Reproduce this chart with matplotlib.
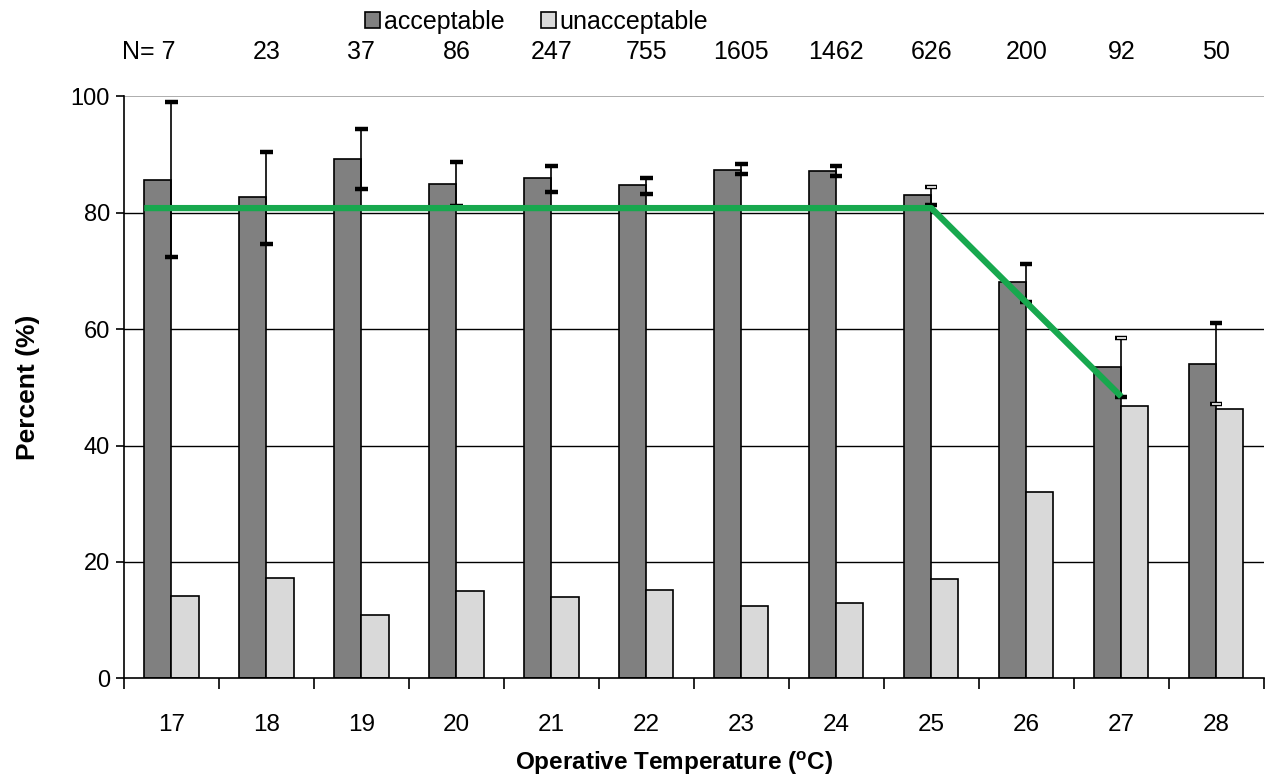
import matplotlib
matplotlib.use('Agg')
import matplotlib.pyplot as plt
import numpy as np

plt.rcParams['font.family'] = ['Liberation Sans', 'DejaVu Sans']
plt.rcParams['mathtext.fontset'] = 'custom'
plt.rcParams['mathtext.rm'] = 'Liberation Sans'
plt.rcParams['mathtext.bf'] = 'Liberation Sans:bold'

# data
temps = [17, 18, 19, 20, 21, 22, 23, 24, 25, 26, 27, 28]
n_obs = [7, 23, 37, 86, 247, 755, 1605, 1462, 626, 200, 92, 50]
acceptable = [85.6, 82.7, 89.2, 84.9, 86.0, 84.7, 87.4, 87.2, 83.0, 68.1, 53.5, 54.0]
unacceptable = [14.2, 17.2, 10.8, 15.0, 14.0, 15.2, 12.5, 12.9, 17.0, 32.1, 46.8, 46.2]
err_upper = [99.1, 90.5, 94.4, 88.8, 88.0, 86.0, 88.3, 88.1, 84.4, 71.2, 58.5, 61.1]
err_lower = [72.4, 74.6, 84.1, 81.2, 83.6, 83.3, 86.6, 86.3, 81.4, 64.7, 48.4, 47.2]
fit_temps = [17, 25, 27]
fit_pct = [80.8, 80.8, 48.4]

# caps drawn hollow in the original
hollow_upper = [25, 27]
hollow_lower = [28]

dark = '#808080'
light = '#D9D9D9'
green = '#17A84E'

fig = plt.figure(figsize=(12.65, 7.77), dpi=100)
ax = fig.add_axes([0.098, 0.127, 0.901, 0.749])

x = np.arange(len(temps))
w = 2 / 7
b1 = ax.bar(x - w / 2, acceptable, w, color=dark, edgecolor='black', linewidth=1.2,
            label='acceptable', zorder=2)
b2 = ax.bar(x + w / 2, unacceptable, w, color=light, edgecolor='black', linewidth=1.2,
            label='unacceptable', zorder=2)

# error bars at the boundary between the two bars
ax.vlines(x, err_lower, err_upper, color='black', linewidth=1.2, zorder=3)
cap = 0.065
for i, t in enumerate(temps):
    for yv, hollow in ((err_upper[i], t in hollow_upper), (err_lower[i], t in hollow_lower)):
        ax.plot([x[i] - cap, x[i] + cap], [yv, yv], color='black', linewidth=3.2,
                solid_capstyle='butt', zorder=4)
        if hollow:
            ax.plot([x[i] - cap * 0.75, x[i] + cap * 0.75], [yv, yv], color=light,
                    linewidth=1.4, solid_capstyle='butt', zorder=5)

# fitted line
fx = [temps.index(t) for t in fit_temps]
fx[0] = fx[0] - w
ax.plot(fx, fit_pct, color=green, linewidth=4.5, zorder=6, solid_capstyle='butt')

ax.set_xlim(-0.5, len(temps) - 0.5)
ax.set_ylim(0, 100)
ax.set_yticks([0, 20, 40, 60, 80, 100])
ax.set_xticks(x)
ax.set_xticklabels([str(t) for t in temps])
ax.set_xticks(np.arange(-0.5, len(temps)), minor=True)
ax.tick_params(axis='x', which='major', length=0, pad=26, labelsize=17.5)
ax.tick_params(axis='x', which='minor', length=8, width=1.2, direction='out')
ax.tick_params(axis='y', length=6, width=1.2, direction='out', pad=4, labelsize=17)

for yg in [20, 40, 60, 80]:
    ax.axhline(yg, color='black', linewidth=1.0, zorder=1)
ax.axhline(100, color='#A0A0A0', linewidth=1.2, zorder=1)

ax.spines['top'].set_visible(False)
ax.spines['right'].set_visible(False)
ax.spines['left'].set_linewidth(1.2)
ax.spines['bottom'].set_linewidth(1.2)

# sample sizes above the plot
for i, n in enumerate(n_obs):
    if i == 0:
        ax.text(x[i] + 0.04, 107.6, 'N= %d' % n, ha='right', va='center', fontsize=18,
                clip_on=False)
    else:
        ax.text(x[i], 107.6, str(n), ha='center', va='center', fontsize=18, clip_on=False)

ax.set_ylabel('Percent (%)', fontsize=19, fontweight='bold', labelpad=22)
ax.set_xlabel(r'Operative Temperature ($^{\mathbf{o}}$C)', fontsize=17.5,
              fontweight='bold', x=0.483, labelpad=9)

fig.legend(handles=[b1, b2], loc='center', bbox_to_anchor=(0.4245, 0.972), ncol=2,
           frameon=False, fontsize=18, handlelength=0.6, handleheight=0.6,
           handletextpad=0.15, columnspacing=1.45)

fig.savefig('out.png', dpi=100)
